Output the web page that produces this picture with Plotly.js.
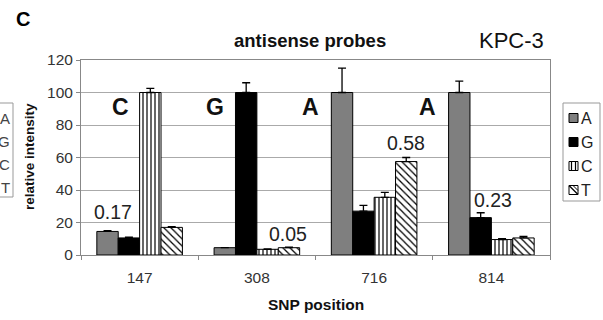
<!DOCTYPE html>
<html><head><meta charset="utf-8">
<script src="https://cdn.plot.ly/plotly-3.0.1.min.js"></script>
<style>html,body{margin:0;padding:0;background:#fff;}#chart{width:603px;height:320px;}</style>
</head><body><div id="chart"></div>
<script>
// Data
var positions = ["147", "308", "716", "814"];
var valA = [14.5, 4.5, 100, 100];
var valG = [10.5, 100, 27, 23];
var valC = [100, 3.5, 35.5, 9.5];
var valT = [17, 4.5, 57.5, 10.5];
var errA = [0.5, 0, 15, 7];
var errG = [0.5, 6, 3.5, 3];
var errC = [2.5, 0.3, 3, 0.5];
var errT = [0.5, 0.4, 2.5, 1];
var bases = ["A", "G", "C", "T"];
var snpLetters = ["C", "G", "A", "A"];
var ratioLabels = ["0.17", "0.05", "0.58", "0.23"];

var L = 81, R = 550, T = 60, B = 255, W = 603, H = 320;
function px(xp){ return (xp - L) / (R - L); }
function py(yp){ return (B - yp) / (B - T); }

function zeros(n){ var a=[]; for(var i=0;i<n;i++) a.push(0); return a; }

var styles = [
  {color:"#7f7f7f", pattern:{shape:""}},
  {color:"#000000", pattern:{shape:""}},
  {color:"#ffffff", pattern:{shape:"|", fgcolor:"#000", bgcolor:"#fff", size:4, solidity:0.3}},
  {color:"#ffffff", pattern:{shape:"\\", fgcolor:"#000", bgcolor:"#fff", size:5, solidity:0.25}}
];
var vals = [valA, valG, valC, valT];
var errs = [errA, errG, errC, errT];

var traces = bases.map(function(b, i){
  return {
    type:"bar", name:b, x:positions, y:vals[i],
    marker:{color:styles[i].color, pattern:styles[i].pattern, line:{color:"#000", width:1}},
    error_y:{type:"data", symmetric:false, array:errs[i], arrayminus:zeros(4), color:"#000", thickness:1.3, width:4},
    showlegend:false, hoverinfo:"skip"
  };
});

var FONT = "Liberation Sans, Arial";
var annotations = [];
function ann(text, x, y, size, color, extra){
  var a = {text:text, xref:"paper", yref:"paper", x:px(x), y:py(y), xanchor:"center", yanchor:"middle",
           showarrow:false, borderpad:0, font:{family:FONT, size:size, color:color}};
  if(extra){ for(var k in extra) a[k] = extra[k]; }
  annotations.push(a);
}
// Panel letter, title, strain
ann("<b>C</b>", 23, 19, 20, "#000");
ann("<b>antisense probes</b>", 310, 41, 18.5, "#111");
ann("KPC-3", 511, 41, 22, "#111");
// SNP letters
var letterX = [120, 215, 310, 427];
snpLetters.forEach(function(s, i){ ann("<b>"+s+"</b>", letterX[i], 107, 23, "#111"); });
// Ratio labels
var ratioPos = [[113,212],[288,234],[406,143],[493,200]];
ratioLabels.forEach(function(s, i){ ann(s, ratioPos[i][0], ratioPos[i][1], 19.5, "#222"); });

// Right legend (manual)
var shapes = [];
shapes.push({type:"rect", xref:"paper", yref:"paper", x0:px(563), x1:px(600), y0:py(103), y1:py(201), line:{color:"#999", width:1}, fillcolor:"#fff"});
var legY = [118, 142, 166, 190];
bases.forEach(function(b, i){
  var cy = legY[i];
  var x0 = 569, x1 = 578, y0 = cy-4.5, y1 = cy+4.5;
  var fill = i===0 ? "#7f7f7f" : (i===1 ? "#000" : "#fff");
  shapes.push({type:"rect", xref:"paper", yref:"paper", x0:px(x0), x1:px(x1), y0:py(y1), y1:py(y0), line:{color:"#000", width:1}, fillcolor:fill});
  if(i===2){
    [571.5, 575.5].forEach(function(lx){
      shapes.push({type:"line", xref:"paper", yref:"paper", x0:px(lx), x1:px(lx), y0:py(y1), y1:py(y0), line:{color:"#000", width:1.2}});
    });
  }
  if(i===3){
    shapes.push({type:"line", xref:"paper", yref:"paper", x0:px(x0), x1:px(x1), y0:py(y0), y1:py(y1), line:{color:"#000", width:1.2}});
    shapes.push({type:"line", xref:"paper", yref:"paper", x0:px(x0+4), x1:px(x1), y0:py(y0), y1:py(y1-4), line:{color:"#000", width:1}});
  }
  ann(b, 580, cy, 16, "#222", {xanchor:"left"});
});

// Left legend fragment (cropped from neighbouring panel)
shapes.push({type:"rect", xref:"paper", yref:"paper", x0:px(-20), x1:px(13), y0:py(197), y1:py(103), line:{color:"#999", width:1}, fillcolor:"rgba(0,0,0,0)"});
var fragY = [118, 141, 164, 187];
bases.forEach(function(b, i){ ann(b, 11, fragY[i], 15, "#444", {xanchor:"right"}); });

// Axis titles
ann("<b>relative intensity</b>", 29, 157, 13.5, "#111", {textangle:-90});
ann("<b>SNP position</b>", 316, 304, 15.5, "#111");

var layout = {
  width:W, height:H,
  margin:{l:L, r:W-R, t:T, b:H-B, pad:0},
  paper_bgcolor:"#fff", plot_bgcolor:"#fff",
  barmode:"group", bargap:0.27, bargroupgap:0,
  showlegend:false,
  font:{family:FONT, color:"#333"},
  xaxis:{type:"category", tickson:"boundaries", ticks:"outside", ticklen:4, tickcolor:"#888",
         showline:true, linecolor:"#888", mirror:true, showgrid:false,
         tickfont:{size:15.5, color:"#333"}, ticklabelstandoff:8, automargin:false, fixedrange:true},
  yaxis:{range:[0,120], dtick:20, ticks:"outside", ticklen:4, tickcolor:"#888",
         showline:true, linecolor:"#888", mirror:true, showgrid:true, gridcolor:"#aaa", gridwidth:1,
         zeroline:false, tickfont:{size:15.5, color:"#333"}, automargin:false, fixedrange:true},
  annotations:annotations,
  shapes:shapes
};

Plotly.newPlot("chart", traces, layout, {staticPlot:true, displayModeBar:false});
</script>
</body></html>
